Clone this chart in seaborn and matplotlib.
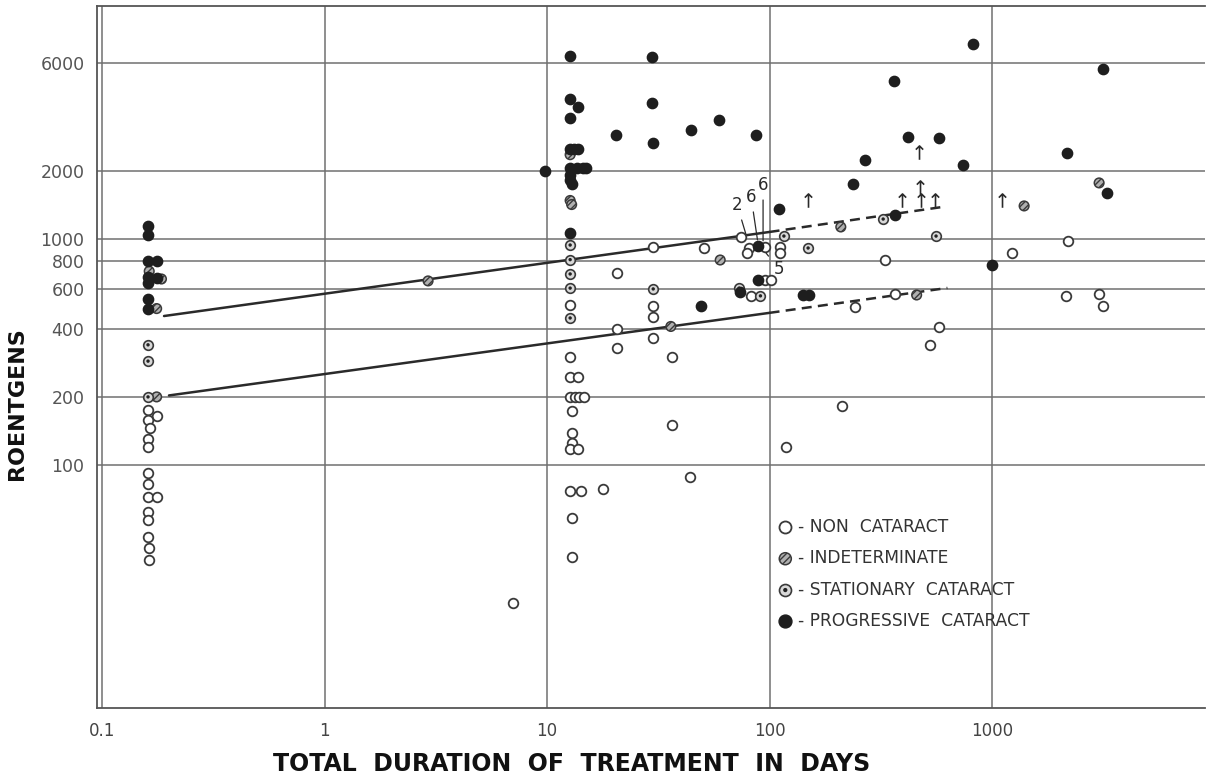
import numpy as np
import pandas as pd
import seaborn as sns
import matplotlib
matplotlib.use("Agg")
import matplotlib.pyplot as plt
from matplotlib.ticker import NullLocator
from matplotlib.legend_handler import HandlerTuple

# open circles - non cataract
noncat_x = [0.161, 0.176, 0.161, 0.165, 0.161, 0.161, 0.161, 0.161, 0.161, 0.176, 0.161, 0.161, 0.161, 0.163, 0.162,
            12.7, 12.7, 12.7, 13.8, 12.7, 13.4, 13.9, 14.7, 12.9, 12.9, 12.9, 12.7, 13.8, 12.7, 14.2, 12.9, 12.9,
            17.9, 20.6, 20.6, 20.6, 7.0, 30, 30, 30, 30, 36.5, 36.5, 44, 51, 74.5, 80.9, 79, 95.5, 111, 111,
            95.5, 102, 82.6, 119, 212, 242, 330, 368, 526, 578, 1230, 2190, 2155, 3027, 3155]
noncat_y = [175, 165, 158, 146, 130, 120, 92, 82, 72, 72, 62, 57, 48, 43, 38,
            510, 300, 245, 245, 200, 200, 200, 200, 173, 139, 125, 118, 118, 77, 77, 58, 39,
            78, 705, 400, 330, 24.5, 922, 506, 452, 365, 300, 150, 88, 912, 1020, 912, 866, 922, 922, 866,
            660, 660, 560, 120, 182, 500, 807, 571, 340, 408, 866, 980, 560, 571, 506]

# hatched - indeterminate
indet_x = [0.176, 0.163, 0.185, 0.176, 2.92, 12.7, 12.7, 12.9, 36, 60, 209, 458, 1393, 3027]
indet_y = [200, 720, 665, 492, 652, 2360, 1480, 1420, 410, 807, 1130, 565, 1400, 1770]

# ringed dot - stationary cataract
stat_x = [0.161, 0.161, 0.161, 12.7, 12.7, 12.7, 12.7, 12.7, 30, 73, 91, 149, 116, 324, 560]
stat_y = [340, 288, 200, 940, 810, 700, 606, 447, 601, 606, 560, 912, 1030, 1225, 1030]

# filled - progressive cataract
prog_x = [0.161, 0.161, 0.161, 0.176, 0.161, 0.176, 0.161, 0.161, 0.161,
          12.7, 12.7, 13.8, 12.7, 12.7, 13.2, 13.8, 12.7, 13.6, 14.5, 15.0, 12.7, 12.7, 12.9, 12.7, 9.8,
          20.5, 29.7, 30, 29.7, 44.4, 59.3, 86.9, 110, 88.7, 74, 89, 141, 150, 49,
          269, 237, 363, 420, 578, 741, 822, 366, 2173, 3155, 3290, 1000]
prog_y = [1142, 1040, 800, 800, 680, 675, 640, 545, 490,
          6460, 4160, 3840, 3430, 2500, 2500, 2500, 2060, 2060, 2060, 2060, 1920, 1830, 1750, 1060, 2000,
          2880, 4000, 2660, 6380, 3030, 3370, 2880, 1360, 930, 580, 660, 565, 565, 506,
          2240, 1750, 5000, 2830, 2800, 2120, 7300, 1277, 2400, 5650, 1600, 767]

# little arrows (dose above plotted value)
arrow_x = [149, 470, 474, 478, 394, 555, 1109]
arrow_y = [1489, 2427, 1700, 1489, 1489, 1489, 1489]

# threshold lines
upper_x = [0.19, 100]
upper_y = [456, 1074]
upper_dash_x = [100, 600]
upper_dash_y = [1074, 1386]
lower_x = [0.2, 100]
lower_y = [203, 471]
lower_dash_x = [100, 630]
lower_dash_y = [471, 607]

# numbered labels: text, text pos, point
note_txt = ["2", "6", "6", "5"]
note_tx = [71.5, 82.6, 93.5, 110]
note_ty = [1413, 1535, 1734, 736]
note_px = [79.2, 88.8, 93.5, 96.4]
note_py = [1010, 950, 940, 867]

xticks = [0.1, 1, 10, 100, 1000]
xlabels = ["0.1", "1", "10", "100", "1000"]
yticks = [100, 200, 400, 600, 800, 1000, 2000, 6000]
ylabels = ["100", "200", "400", "600", "800", "1000", "2000", "6000"]

sns.set_theme(style="white")
plt.rcParams['font.family'] = ['DejaVu Sans']

fig = plt.figure(figsize=(12.07, 7.77), dpi=100)
ax = fig.add_axes([0.0804, 0.0888, 0.918, 0.9035])
ax.set_xscale("log")
ax.set_yscale("log")

ink = "#2a2a2a"
df_non = pd.DataFrame({"x": noncat_x, "y": noncat_y})
df_ind = pd.DataFrame({"x": indet_x, "y": indet_y})
df_sta = pd.DataFrame({"x": stat_x, "y": stat_y})
df_pro = pd.DataFrame({"x": prog_x, "y": prog_y})

ax.plot(upper_x, upper_y, color=ink, lw=1.8)
ax.plot(lower_x, lower_y, color=ink, lw=1.8)
ax.plot(upper_dash_x, upper_dash_y, color=ink, lw=1.8, ls=(0, (4, 2.5)))
ax.plot(lower_dash_x, lower_dash_y, color=ink, lw=1.8, ls=(0, (4, 2.5)))

sns.scatterplot(data=df_non, x="x", y="y", ax=ax, s=48, facecolor="white",
                edgecolor="#3a3a3a", linewidth=1.3, zorder=3)
h_non = ax.collections[-1]
h_ind = ax.scatter(df_ind.x, df_ind.y, s=48, facecolor="#b0b0b0", edgecolor="#3a3a3a",
                   hatch="/////", linewidth=1.1, zorder=3)
h_sta = ax.scatter(df_sta.x, df_sta.y, s=48, facecolor="#d8d8d8", edgecolor="#3a3a3a",
                   linewidth=1.2, zorder=3)
h_dot = ax.scatter(df_sta.x, df_sta.y, s=6, facecolor="#222", edgecolor="none", zorder=4)
h_pro = ax.scatter(df_pro.x, df_pro.y, s=55, facecolor="#1e1e1e", edgecolor="#1e1e1e",
                   linewidth=1, zorder=3)
ax.scatter(arrow_x, arrow_y, s=110, marker=r"$\uparrow$", color=ink, linewidth=0, zorder=3)

for t, tx, ty, px, py in zip(note_txt, note_tx, note_ty, note_px, note_py):
    ax.annotate(t, xy=(px, py), xytext=(tx, ty), ha="center", va="center", fontsize=12,
                color=ink, arrowprops=dict(arrowstyle="-", color=ink, lw=0.9, shrinkA=2, shrinkB=3))

ax.set_xlim(0.095, 9060)
ax.set_ylim(8.4, 10740)
ax.set_xticks(xticks)
ax.set_xticklabels(xlabels)
ax.set_yticks(yticks)
ax.set_yticklabels(ylabels)
ax.xaxis.set_minor_locator(NullLocator())
ax.yaxis.set_minor_locator(NullLocator())
ax.grid(True, which="major", color="#707070", lw=1.1)
ax.tick_params(axis="x", length=0, pad=10, labelsize=12, labelcolor="#444")
ax.tick_params(axis="y", length=7, width=1, color="#666", pad=2, labelsize=12.5, labelcolor="#555")
for side in ["left", "top", "bottom"]:
    ax.spines[side].set_color("#555")
    ax.spines[side].set_linewidth(1.3)
ax.spines["right"].set_visible(False)

ax.set_xlabel("TOTAL  DURATION  OF  TREATMENT  IN  DAYS", fontsize=17, fontweight="bold", color="#111")
ax.xaxis.set_label_coords(0.428, -0.062)
ax.set_ylabel("ROENTGENS", fontsize=16, fontweight="bold", color="#111")
ax.yaxis.set_label_coords(-0.063, 0.433)

leg = ax.legend([h_non, h_ind, (h_sta, h_dot), h_pro],
                ["- NON  CATARACT", "- INDETERMINATE", "- STATIONARY  CATARACT", "- PROGRESSIVE  CATARACT"],
                handler_map={tuple: HandlerTuple(ndivide=1)},
                loc="upper left", bbox_to_anchor=(0.6065, 0.283), frameon=False, markerscale=1.25,
                fontsize=12.3, handlelength=0.9, handletextpad=0.3, labelspacing=0.78, borderpad=0)
for txt in leg.get_texts():
    txt.set_color("#333")

fig.savefig("out.png", dpi=100)
